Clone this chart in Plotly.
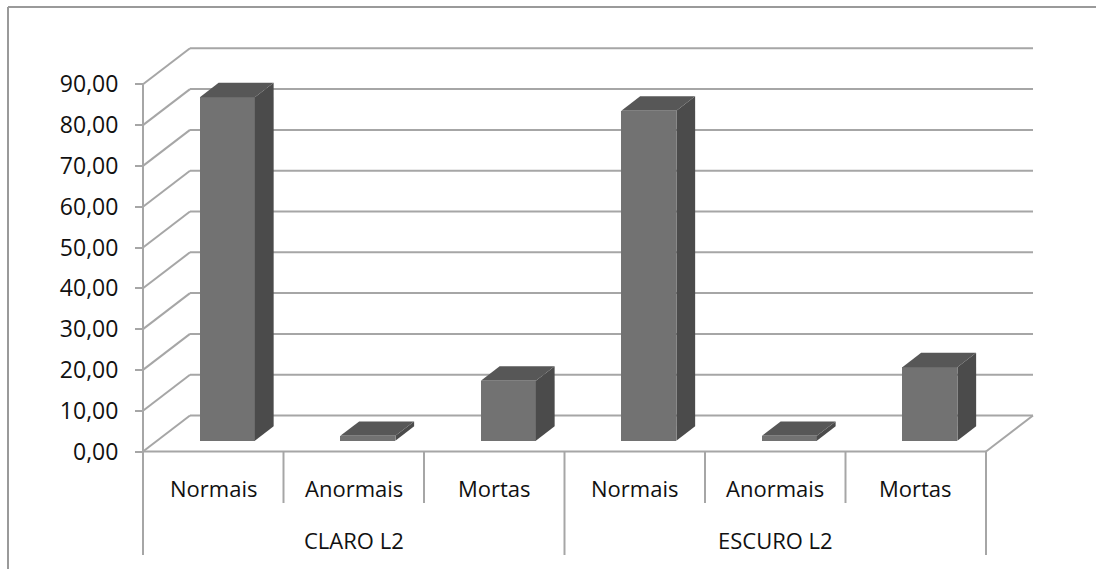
import plotly.graph_objects as go

# ---- data -------------------------------------------------------------
groups = ["CLARO L2", "ESCURO L2"]
categories = ["Normais", "Anormais", "Mortas"]
claro_values = [84.2, 1.2, 14.7]
escuro_values = [80.9, 1.2, 18.0]
y_ticks = [0, 10, 20, 30, 40, 50, 60, 70, 80, 90]
y_tick_labels = ["0,00", "10,00", "20,00", "30,00", "40,00", "50,00",
                 "60,00", "70,00", "80,00", "90,00"]

# ---- page / projection layout (pixels) --------------------------------
W, H = 1096, 569
PLOT_L, PLOT_R, PLOT_T, PLOT_B = 110, 1070, 25, 566
AXIS_PX = 143          # front value-axis position
CAT_PX = 140.5         # width of one category slot
ZERO_PX = 451.5        # y pixel of value 0 on the front plane
UNIT_PX = 4.08         # pixels per value unit
DEPTH_X_PX, DEPTH_Y_PX = 47, 36   # floor depth offset
BAR_W_PX = 55
FRONT_F, BACK_F = 0.3, 0.7        # bar depth fractions

GRID = "#a6a6a6"
FRONT = "#727272"
TOP = "#575757"
SIDE = "#4b4b4b"
FONT = "Open Sans"
TEXT = "#111111"


def xd(px):
    return -0.5 + (px - AXIS_PX) / CAT_PX


def yd(py):
    return (ZERO_PX - py) / UNIT_PX


DX = DEPTH_X_PX / CAT_PX
DY = DEPTH_Y_PX / UNIT_PX
BW = BAR_W_PX / CAT_PX

values = claro_values + escuro_values
labels = categories * len(groups)
xs = list(range(len(values)))
n = len(values)
x_left, x_right = -0.5, n - 0.5

fig = go.Figure()

# front faces of the bars
fig.add_trace(go.Bar(
    x=[i + FRONT_F * DX for i in xs],
    y=values,
    base=FRONT_F * DY,
    width=BW,
    marker=dict(color=FRONT, line=dict(width=0)),
    hoverinfo="skip",
    showlegend=False,
))

# top and side faces
d_dx = (BACK_F - FRONT_F) * DX
d_dy = (BACK_F - FRONT_F) * DY
for i, v in zip(xs, values):
    xl = i + FRONT_F * DX - BW / 2
    xr = i + FRONT_F * DX + BW / 2
    b0 = FRONT_F * DY
    fig.add_trace(go.Scatter(
        x=[xr, xr, xr + d_dx, xr + d_dx, xr],
        y=[b0, b0 + v, b0 + v + d_dy, b0 + d_dy, b0],
        fill="toself", fillcolor=SIDE, mode="lines",
        line=dict(width=0, color=SIDE), hoverinfo="skip", showlegend=False,
    ))
    fig.add_trace(go.Scatter(
        x=[xl, xr, xr + d_dx, xl + d_dx, xl],
        y=[b0 + v, b0 + v, b0 + v + d_dy, b0 + v + d_dy, b0 + v],
        fill="toself", fillcolor=TOP, mode="lines",
        line=dict(width=0, color=TOP), hoverinfo="skip", showlegend=False,
    ))

shapes = []
line = dict(color=GRID, width=2)

# gridlines: diagonal on the side wall, then across the back wall
for t in y_ticks:
    shapes.append(dict(type="line", x0=x_left, y0=t, x1=x_left + DX, y1=t + DY,
                       line=line, layer="below"))
    shapes.append(dict(type="line", x0=x_left + DX, y0=t + DY,
                       x1=x_right + DX, y1=t + DY, line=line, layer="below"))

# front value axis
shapes.append(dict(type="line", x0=x_left, y0=0, x1=x_left, y1=y_ticks[-1],
                   line=line, layer="below"))
# floor front edge and right edge
shapes.append(dict(type="line", x0=x_left, y0=0, x1=x_right, y1=0,
                   line=line, layer="below"))
shapes.append(dict(type="line", x0=x_right, y0=0, x1=x_right + DX, y1=DY,
                   line=line, layer="below"))

# category dividers below the floor
per_group = len(categories)
for k in range(n + 1):
    bottom = 555 if k % per_group == 0 else 503
    shapes.append(dict(type="line", x0=x_left + k, y0=0, x1=x_left + k,
                       y1=yd(bottom), line=line, layer="below"))

# outer chart border (top and left edges)
def xp(px):
    return (px - PLOT_L) / (PLOT_R - PLOT_L)


def yp(py):
    return (PLOT_B - py) / (PLOT_B - PLOT_T)


shapes.append(dict(type="line", xref="paper", yref="paper",
                   x0=xp(8), y0=yp(7), x1=xp(W + 5), y1=yp(7),
                   line=dict(color="#9a9a9a", width=2)))
shapes.append(dict(type="line", xref="paper", yref="paper",
                   x0=xp(8), y0=yp(7), x1=xp(8), y1=yp(H + 5),
                   line=dict(color="#9a9a9a", width=2)))

annotations = []
for i, lab in zip(xs, labels):
    annotations.append(dict(x=i, y=yd(488), text=lab, showarrow=False,
                            xanchor="center", yanchor="middle",
                            font=dict(family=FONT, size=22, color=TEXT)))
for g, name in enumerate(groups):
    annotations.append(dict(x=g * per_group + (per_group - 1) / 2, y=yd(540),
                            text=name, showarrow=False,
                            xanchor="center", yanchor="middle",
                            font=dict(family=FONT, size=22, color=TEXT)))

fig.update_layout(
    width=W, height=H,
    margin=dict(l=PLOT_L, r=W - PLOT_R, t=PLOT_T, b=H - PLOT_B, pad=0),
    paper_bgcolor="white", plot_bgcolor="white",
    showlegend=False,
    shapes=shapes,
    annotations=annotations,
    bargap=0,
    xaxis=dict(range=[xd(PLOT_L), xd(PLOT_R)], visible=False, fixedrange=True),
    yaxis=dict(
        range=[yd(PLOT_B), yd(PLOT_T)],
        anchor="free", position=xp(AXIS_PX),
        tickvals=y_ticks, ticktext=y_tick_labels,
        ticks="outside", ticklen=8, tickwidth=2, tickcolor=GRID,
        ticklabelstandoff=12,
        showgrid=False, zeroline=False, showline=False,
        tickfont=dict(family=FONT, size=23, color=TEXT),
        fixedrange=True,
    ),
)

fig.write_html("out.html")
